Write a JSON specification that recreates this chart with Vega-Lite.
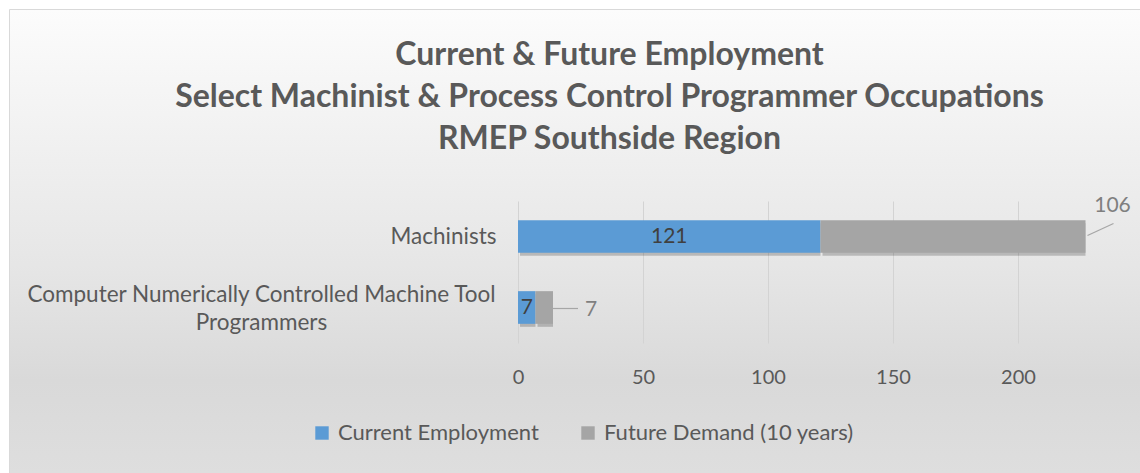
{
  "$schema": "https://vega.github.io/schema/vega-lite/v6.json",
  "autosize": "none",
  "width": 1131,
  "height": 464,
  "padding": {"left": 9, "top": 9, "right": 0, "bottom": 0},
  "background": "#FFFFFF",
  "view": {
    "stroke": "#D9D9D9",
    "strokeWidth": 1,
    "fill": {
      "gradient": "linear",
      "x1": 0, "y1": 0, "x2": 0, "y2": 1,
      "stops": [
        {"offset": 0, "color": "#FCFCFC"},
        {"offset": 0.3, "color": "#F0F0F0"},
        {"offset": 0.55, "color": "#E6E6E6"},
        {"offset": 0.8, "color": "#D9D9D9"},
        {"offset": 1, "color": "#DEDEDE"}
      ]
    }
  },
  "title": {
    "text": ["Current & Future Employment", "Select Machinist & Process Control Programmer Occupations", "RMEP Southside Region"],
    "font": "Lato",
    "fontSize": 32,
    "fontWeight": "bold",
    "color": "#595959",
    "lineHeight": 42,
    "anchor": "middle",
    "frame": "group",
    "dx": 35,
    "offset": -147
  },
  "data": {
    "values": [
      {"category": "Machinists", "series": "Current Employment", "value": 121},
      {"category": "Machinists", "series": "Future Demand (10 years)", "value": 106},
      {"category": "Computer Numerically Controlled Machine Tool Programmers", "series": "Current Employment", "value": 7},
      {"category": "Computer Numerically Controlled Machine Tool Programmers", "series": "Future Demand (10 years)", "value": 7}
    ]
  },
  "transform": [
    {"stack": "value", "groupby": ["category"], "sort": [{"field": "series", "order": "ascending"}], "as": ["x0", "x1"]}
  ],
  "encoding": {
    "y": {
      "field": "category",
      "type": "nominal",
      "sort": ["Machinists", "Computer Numerically Controlled Machine Tool Programmers"],
      "scale": {"range": [192, 334], "paddingInner": 0.54, "paddingOuter": 0.27},
      "axis": {
        "title": null,
        "orient": "left",
        "offset": -509,
        "domain": false,
        "ticks": false,
        "grid": false,
        "labelFont": "Lato",
        "labelFontSize": 22.5,
        "labelColor": "#595959",
        "labelLineHeight": 28,
        "labelBaseline": "middle",
        "labelLimit": 0,
        "labelExpr": "datum.value == 'Machinists' ? datum.value : ['Computer Numerically Controlled Machine Tool', 'Programmers']",
        "labelAlign": {"condition": {"test": "datum.value == 'Machinists'", "value": "right"}, "value": "center"},
        "labelPadding": {"condition": {"test": "datum.value == 'Machinists'", "value": 22}, "value": 257},
        "labelOffset": {"condition": {"test": "datum.value == 'Machinists'", "value": 0}, "value": -13}
      }
    }
  },
  "layer": [
    {
      "mark": {"type": "bar", "color": "#000000", "opacity": 0.2, "xOffset": 2, "yOffset": 3},
      "encoding": {
        "x": {"field": "x0", "type": "quantitative", "scale": {"domain": [-203.6, 248.8], "nice": false, "zero": false}},
        "x2": {"field": "x1"}
      }
    },
    {
      "mark": {"type": "bar"},
      "encoding": {
        "x": {
          "field": "x0",
          "type": "quantitative",
          "scale": {"domain": [-203.6, 248.8], "nice": false, "zero": false},
          "axis": {
            "title": null,
            "orient": "top",
            "values": [0, 50, 100, 150, 200],
            "offset": -382,
            "domain": false,
            "ticks": false,
            "grid": true,
            "gridColor": "#D3D3D3",
            "gridWidth": 1,
            "labelFont": "Lato",
            "labelFontSize": 20,
            "labelColor": "#595959",
            "labelPadding": 4
          }
        },
        "x2": {"field": "x1"},
        "color": {
          "field": "series",
          "type": "nominal",
          "scale": {"domain": ["Current Employment", "Future Demand (10 years)"], "range": ["#5B9BD5", "#A5A5A5"]},
          "legend": {
            "title": null,
            "orient": "none",
            "legendX": 302,
            "legendY": 413,
            "direction": "horizontal",
            "symbolType": "square",
            "symbolSize": 180,
            "symbolStrokeWidth": 0,
            "labelFont": "Lato",
            "labelFontSize": 22,
            "labelColor": "#595959",
            "labelLimit": 0,
            "labelOffset": 5,
            "columnPadding": 38,
            "padding": 0
          }
        }
      }
    },
    {
      "transform": [
        {"filter": "datum.series == 'Current Employment'"},
        {"fold": ["x0", "x1"], "as": ["k", "pos"]},
        {"aggregate": [{"op": "mean", "field": "pos", "as": "mid"}], "groupby": ["category", "value"]}
      ],
      "mark": {"type": "text", "font": "Lato", "fontSize": 21, "color": "#404040", "align": "center", "baseline": "middle"},
      "encoding": {
        "x": {"field": "mid", "type": "quantitative"},
        "text": {"field": "value", "type": "quantitative"}
      }
    },
    {
      "transform": [{"filter": "datum.series == 'Future Demand (10 years)' && datum.category == 'Machinists'"}],
      "mark": {"type": "text", "font": "Lato", "fontSize": 21, "color": "#7F7F7F", "align": "center", "baseline": "middle", "dx": 27, "dy": -31},
      "encoding": {
        "x": {"field": "x1", "type": "quantitative"},
        "text": {"field": "value", "type": "quantitative"}
      }
    },
    {
      "transform": [{"filter": "datum.series == 'Future Demand (10 years)' && datum.category != 'Machinists'"}],
      "mark": {"type": "text", "font": "Lato", "fontSize": 21, "color": "#7F7F7F", "align": "center", "baseline": "middle", "dx": 38, "dy": 2},
      "encoding": {
        "x": {"field": "x1", "type": "quantitative"},
        "text": {"field": "value", "type": "quantitative"}
      }
    },
    {
      "transform": [{"filter": "datum.series == 'Future Demand (10 years)' && datum.category == 'Machinists'"}],
      "mark": {"type": "rule", "color": "#A6A6A6", "strokeWidth": 1.2, "xOffset": 2, "x2Offset": 28, "yOffset": -1, "y2Offset": -13},
      "encoding": {
        "x": {"field": "x1", "type": "quantitative"},
        "x2": {"field": "x1"},
        "y2": {"field": "category"}
      }
    },
    {
      "transform": [{"filter": "datum.series == 'Future Demand (10 years)' && datum.category != 'Machinists'"}],
      "mark": {"type": "rule", "color": "#A6A6A6", "strokeWidth": 1.2, "xOffset": 0, "x2Offset": 25, "yOffset": 1, "y2Offset": 1},
      "encoding": {
        "x": {"field": "x1", "type": "quantitative"},
        "x2": {"field": "x1"},
        "y2": {"field": "category"}
      }
    }
  ]
}
